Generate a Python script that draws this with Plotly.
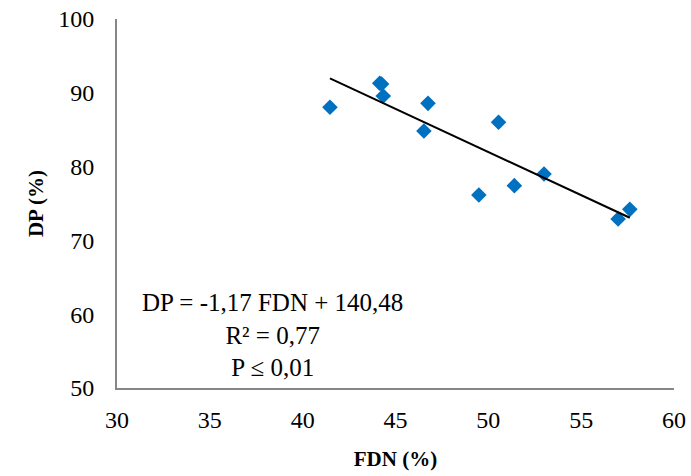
import plotly.graph_objects as go

fdn = [41.47, 44.15, 44.25, 44.34, 46.75, 46.53, 50.55, 49.49, 51.40, 53.0, 57.62, 56.99]
dp = [88.04, 91.3, 91.2, 89.57, 88.57, 84.82, 86.0, 76.15, 77.42, 79.0, 74.21, 72.9]

slope = -1.17
intercept = 140.48
x_tick_vals = [30, 35, 40, 45, 50, 55, 60]
y_tick_vals = [50, 60, 70, 80, 90, 100]

fit_x = [min(fdn), max(fdn)]
fit_y = [slope * v + intercept for v in fit_x]

font_family = "Liberation Serif, Times New Roman, serif"

fig = go.Figure()
fig.add_trace(go.Scatter(
    x=fdn, y=dp, mode="markers",
    marker=dict(symbol="diamond", size=12, color="#0070C0"),
    showlegend=False,
))
fig.add_trace(go.Scatter(
    x=fit_x, y=fit_y, mode="lines",
    line=dict(color="black", width=2),
    showlegend=False,
))

fig.add_annotation(
    x=0.28, y=0.143, xref="paper", yref="paper",
    xanchor="center", yanchor="middle",
    text="DP = -1,17 FDN + 140,48<br>R² = 0,77<br>P ≤ 0,01",
    showarrow=False, align="center",
    font=dict(family=font_family, size=25, color="black"),
)

fig.update_layout(
    width=691, height=476,
    margin=dict(l=117, r=17, t=19, b=88),
    paper_bgcolor="white", plot_bgcolor="white",
    font=dict(family=font_family, size=24, color="black"),
    xaxis=dict(
        range=[30, 60], tickvals=x_tick_vals, showgrid=False, zeroline=False,
        showline=True, linecolor="#868686", linewidth=2, ticks="",
        tickfont=dict(size=24), ticklabelstandoff=9, automargin=False,
        title=dict(text="<b>FDN (%)</b>", font=dict(size=21), standoff=20),
    ),
    yaxis=dict(
        range=[50, 100], tickvals=y_tick_vals, showgrid=False, zeroline=False,
        showline=True, linecolor="#868686", linewidth=2, ticks="",
        tickfont=dict(size=24), ticklabelstandoff=16, automargin=False,
        title=dict(text="<b>DP (%)</b>", font=dict(size=21), standoff=9),
    ),
)

fig.write_html("out.html")
